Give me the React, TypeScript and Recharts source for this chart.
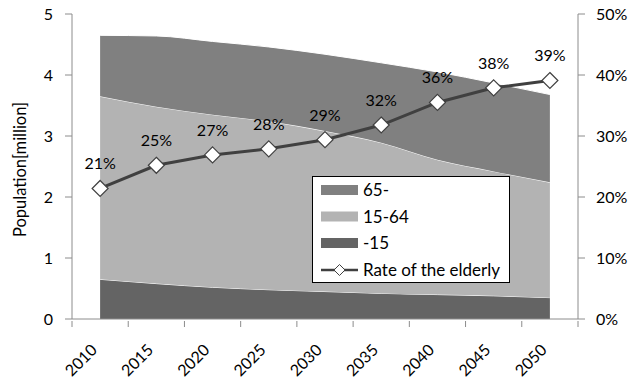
import {
  Area,
  ComposedChart,
  Label,
  LabelList,
  Line,
  XAxis,
  YAxis,
} from "recharts";

const years = ["2010", "2015", "2020", "2025", "2030", "2035", "2040", "2045", "2050"];
const under15 = [0.65, 0.58, 0.52, 0.48, 0.45, 0.42, 0.4, 0.38, 0.35];
const age15to64 = [3.0, 2.9, 2.83, 2.76, 2.63, 2.47, 2.21, 2.04, 1.89];
const over65 = [1.0, 1.16, 1.2, 1.22, 1.26, 1.31, 1.44, 1.45, 1.44];
const elderlyRate = [21.4, 25.2, 26.9, 27.9, 29.4, 31.8, 35.5, 37.9, 39.1];

const leftTicks = [0, 1, 2, 3, 4, 5];
const rightTicks = [0, 10, 20, 30, 40, 50];

const data = years.map((year, i) => ({
  year,
  young: under15[i],
  working: age15to64[i],
  old: over65[i],
  rate: elderlyRate[i],
}));

const FONT = "Lato, 'Open Sans', sans-serif";
const AXIS = "#8c8c8c";
const BAND = 506 / years.length;

function YearTick(props: any) {
  const { x, y, payload, index } = props;
  const last = index === years.length - 1;
  const tx = x - 2;
  const ty = y + 30;
  return (
    <g>
      <line x1={x - BAND / 2} y1={y} x2={x - BAND / 2} y2={y + 6} stroke={AXIS} />
      {last && <line x1={x + BAND / 2} y1={y} x2={x + BAND / 2} y2={y + 6} stroke={AXIS} />}
      <text
        x={tx}
        y={ty}
        textAnchor="end"
        transform={`rotate(-45, ${tx}, ${ty})`}
        fontSize={16}
        fill="#000"
      >
        {payload.value}
      </text>
    </g>
  );
}

function renderDiamond(props: any) {
  const { cx, cy, index } = props;
  return (
    <path
      key={`d-${index}`}
      d={`M${cx},${cy - 8}L${cx + 8},${cy}L${cx},${cy + 8}L${cx - 8},${cy}Z`}
      fill="#fff"
      stroke="#404040"
      strokeWidth={1.2}
    />
  );
}

function LegendBox() {
  const rows = [
    { name: "65-", color: "#808080" },
    { name: "15-64", color: "#b3b3b3" },
    { name: "-15", color: "#646464" },
  ];
  return (
    <svg width={198} height={107} style={{ display: "block" }}>
      <rect x={0.5} y={0.5} width={197} height={106} fill="#fff" stroke="#000" />
      {rows.map((r, i) => (
        <g key={r.name}>
          <rect x={9} y={9 + i * 26.5} width={37} height={10} fill={r.color} />
          <text x={51} y={20 + i * 26.5} fontSize={17} fill="#000">
            {r.name}
          </text>
        </g>
      ))}
      <line x1={9} y1={94} x2={46} y2={94} stroke="#404040" strokeWidth={2.5} />
      <path d="M27.5,88.5L33,94L27.5,99.5L22,94Z" fill="#fff" stroke="#404040" />
      <text x={51} y={100} fontSize={17} fill="#000">
        Rate of the elderly
      </text>
    </svg>
  );
}

export default function App() {
  return (
    <div
      style={{
        position: "absolute",
        left: 0,
        top: 0,
        width: 630,
        height: 381,
        background: "#fff",
        fontFamily: FONT,
      }}
    >
      <ComposedChart
        width={630}
        height={381}
        data={data}
        margin={{ top: 14, right: 0, bottom: 1, left: 0 }}
        style={{ fontFamily: FONT }}
      >
        <XAxis
          dataKey="year"
          scale="band"
          height={61}
          tickSize={0}
          tickLine={false}
          axisLine={{ stroke: AXIS }}
          interval={0}
          tick={<YearTick />}
        />
        <YAxis
          yAxisId="left"
          width={72}
          domain={[0, 5]}
          ticks={leftTicks}
          tickSize={7}
          tickMargin={12}
          axisLine={{ stroke: AXIS }}
          tickLine={{ stroke: AXIS }}
          tick={{ fill: "#000", fontSize: 16 }}
        >
          <Label
            content={(p: any) => {
              const vb = p.viewBox || { y: 14, height: 305 };
              const cy = vb.y + vb.height / 2 + 3;
              return (
                <text
                  x={20}
                  y={cy}
                  transform={`rotate(-90, 20, ${cy})`}
                  textAnchor="middle"
                  dominantBaseline="central"
                  fontSize={16.5}
                  fill="#000"
                >
                  Population[million]
                </text>
              );
            }}
          />
        </YAxis>
        <YAxis
          yAxisId="right"
          orientation="right"
          width={52}
          domain={[0, 50]}
          ticks={rightTicks}
          tickFormatter={(v: number) => `${v}%`}
          tickSize={7}
          tickMargin={11}
          axisLine={{ stroke: AXIS }}
          tickLine={{ stroke: AXIS }}
          tick={{ fill: "#000", fontSize: 16, textAnchor: "start" }}
        />
        <Area
          yAxisId="left"
          type="monotone"
          dataKey="young"
          name="-15"
          stackId="pop"
          fill="#646464"
          fillOpacity={1}
          stroke="#fff"
          strokeWidth={1}
          isAnimationActive={false}
        />
        <Area
          yAxisId="left"
          type="monotone"
          dataKey="working"
          name="15-64"
          stackId="pop"
          fill="#b3b3b3"
          fillOpacity={1}
          stroke="#fff"
          strokeWidth={1}
          isAnimationActive={false}
        />
        <Area
          yAxisId="left"
          type="monotone"
          dataKey="old"
          name="65-"
          stackId="pop"
          fill="#808080"
          fillOpacity={1}
          stroke="#fff"
          strokeWidth={1}
          isAnimationActive={false}
        />
        <Line
          yAxisId="right"
          type="linear"
          dataKey="rate"
          name="Rate of the elderly"
          stroke="#404040"
          strokeWidth={3}
          dot={renderDiamond}
          activeDot={false}
          isAnimationActive={false}
        >
          <LabelList
            dataKey="rate"
            position="top"
            offset={19}
            fontSize={16}
            fill="#000"
            formatter={(v: any) => `${Math.round(Number(v))}%`}
          />
        </Line>
      </ComposedChart>
      <div style={{ position: "absolute", left: 312, top: 176 }}>
        <LegendBox />
      </div>
    </div>
  );
}
